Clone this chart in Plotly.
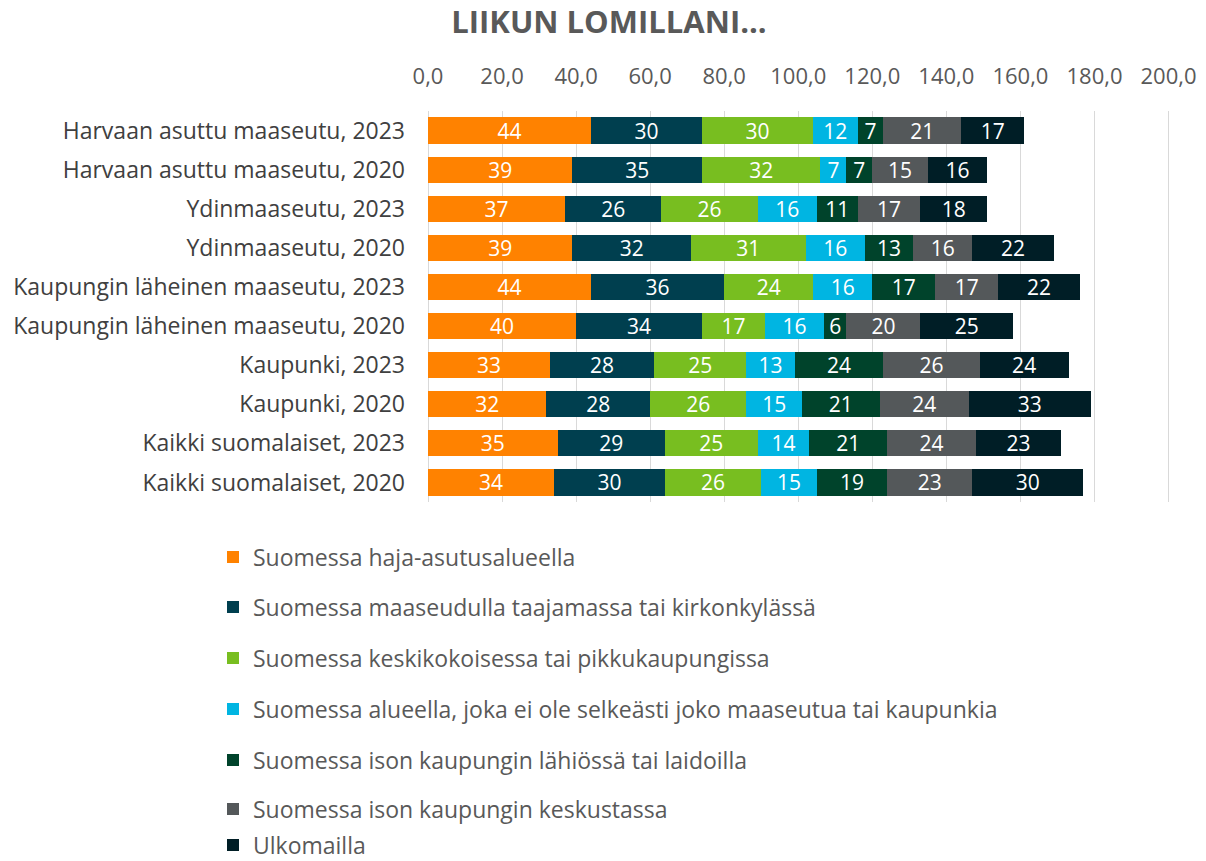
import plotly.graph_objects as go

categories = [
    "Harvaan asuttu maaseutu, 2023",
    "Harvaan asuttu maaseutu, 2020",
    "Ydinmaaseutu, 2023",
    "Ydinmaaseutu, 2020",
    "Kaupungin läheinen maaseutu, 2023",
    "Kaupungin läheinen maaseutu, 2020",
    "Kaupunki, 2023",
    "Kaupunki, 2020",
    "Kaikki suomalaiset, 2023",
    "Kaikki suomalaiset, 2020",
]

series_names = [
    "Suomessa haja-asutusalueella",
    "Suomessa maaseudulla taajamassa tai kirkonkylässä",
    "Suomessa keskikokoisessa tai pikkukaupungissa",
    "Suomessa alueella, joka ei ole selkeästi joko maaseutua tai kaupunkia",
    "Suomessa ison kaupungin lähiössä tai laidoilla",
    "Suomessa ison kaupungin keskustassa",
    "Ulkomailla",
]

haja = [44, 39, 37, 39, 44, 40, 33, 32, 35, 34]
taajama = [30, 35, 26, 32, 36, 34, 28, 28, 29, 30]
pikkukaupunki = [30, 32, 26, 31, 24, 17, 25, 26, 25, 26]
valimuoto = [12, 7, 16, 16, 16, 16, 13, 15, 14, 15]
lahio = [7, 7, 11, 13, 17, 6, 24, 21, 21, 19]
keskusta = [21, 15, 17, 16, 17, 20, 26, 24, 24, 23]
ulkomailla = [17, 16, 18, 22, 22, 25, 24, 33, 23, 30]

series_values = [haja, taajama, pikkukaupunki, valimuoto, lahio, keskusta, ulkomailla]
colors = ["#FF8200", "#003F4F", "#78BE20", "#00B5E2", "#00432B", "#54585A", "#001E26"]

tick_vals = [0, 20, 40, 60, 80, 100, 120, 140, 160, 180, 200]

# legend entry vertical centres (pixels from top)
legend_y_px = [557, 607, 658, 709, 760, 809, 845]

W, H = 1206, 861
fig = go.Figure()
legend_layouts = {}
for i, (name, vals, col) in enumerate(zip(series_names, series_values, colors)):
    lg = "legend" if i == 0 else f"legend{i + 1}"
    fig.add_trace(go.Bar(
        y=categories,
        x=vals,
        name=name,
        orientation="h",
        marker=dict(color=col, line=dict(width=0)),
        text=vals,
        texttemplate="%{text}",
        textposition="inside",
        insidetextanchor="middle",
        textangle=0,
        constraintext="none",
        textfont=dict(color="white", size=21, family="Open Sans"),
        legend=lg,
        hoverinfo="x+y+name",
    ))
    legend_layouts[lg] = dict(
        orientation="v",
        xref="container",
        yref="container",
        x=213 / W,
        y=1 - legend_y_px[i] / H,
        xanchor="left",
        yanchor="middle",
        font=dict(size=23, color="#595959", family="Open Sans"),
        itemwidth=30,
        bgcolor="rgba(0,0,0,0)",
    )

fig.update_layout(
    barmode="stack",
    bargap=0.33,
    width=W,
    height=H,
    plot_bgcolor="white",
    paper_bgcolor="white",
    separators=", ",
    font=dict(family="Open Sans", color="#595959"),
    margin=dict(l=428, r=36, t=111, b=359, autoexpand=False),
    title=dict(
        text="<b>LIIKUN LOMILLANI...</b>",
        x=609 / W,
        xref="container",
        xanchor="center",
        y=1 - 22 / H,
        yref="container",
        yanchor="middle",
        font=dict(size=31, color="#595959", family="Open Sans"),
    ),
    xaxis=dict(
        side="top",
        range=[0, 200.4],
        tickvals=tick_vals,
        tickformat=".1f",
        showgrid=True,
        gridcolor="#D9D9D9",
        gridwidth=1,
        zeroline=True,
        zerolinecolor="#D9D9D9",
        zerolinewidth=1,
        showline=False,
        ticks="",
        ticklabelstandoff=22,
        tickfont=dict(size=22, color="#595959"),
        fixedrange=True,
    ),
    yaxis=dict(
        autorange="reversed",
        showgrid=False,
        ticks="",
        ticklabelstandoff=22,
        tickfont=dict(size=23, color="#404040"),
        showline=False,
    ),
    showlegend=True,
    **legend_layouts,
)

fig.write_html(
    "out.html",
    config={"displayModeBar": False},
    post_script="document.body.style.margin='0';",
)
